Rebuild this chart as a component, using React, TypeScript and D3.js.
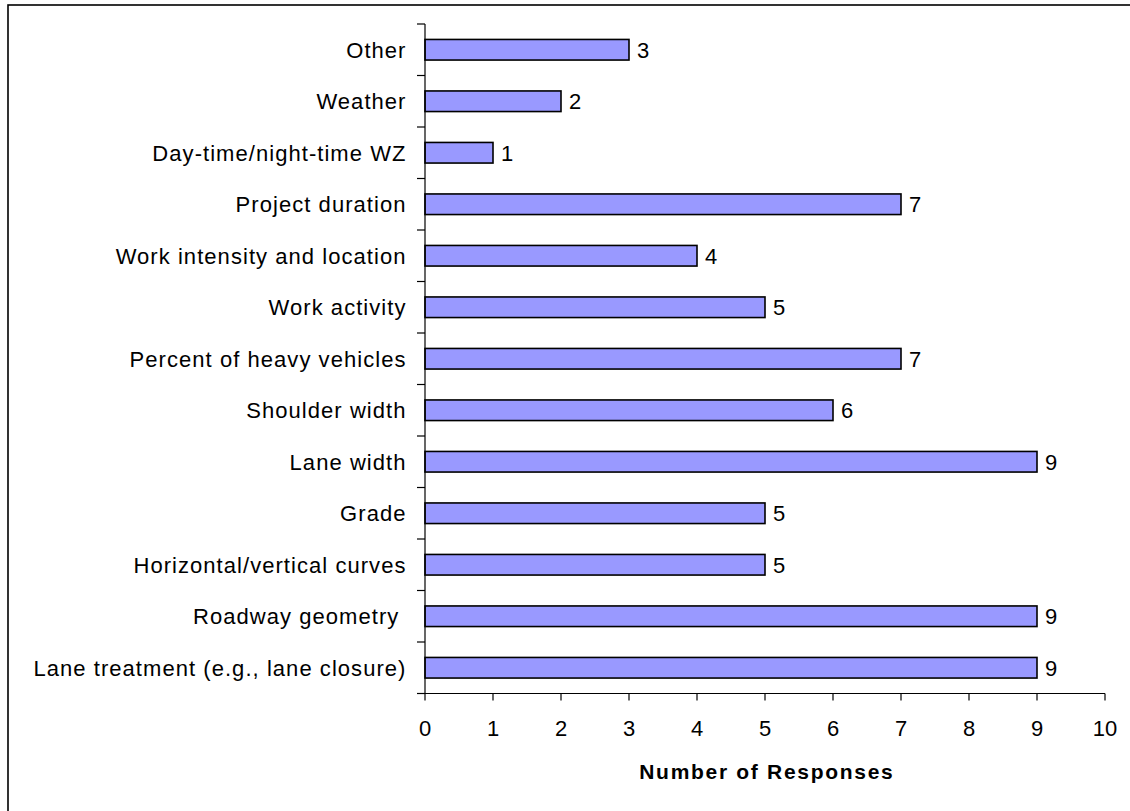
import React from "react";
import * as d3 from "d3";

const categories: string[] = [
  "Other",
  "Weather",
  "Day-time/night-time WZ",
  "Project duration",
  "Work intensity and location",
  "Work activity",
  "Percent of heavy vehicles",
  "Shoulder width",
  "Lane width",
  "Grade",
  "Horizontal/vertical curves",
  "Roadway geometry ",
  "Lane treatment (e.g., lane closure)",
];
const responses: number[] = [3, 2, 1, 7, 4, 5, 7, 6, 9, 5, 5, 9, 9];
const xTicks: number[] = [0, 1, 2, 3, 4, 5, 6, 7, 8, 9, 10];
const xTitle = "Number of Responses";

const W = 1130;
const H = 811;
const plot = { left: 425, right: 1105, top: 24, bottom: 693.5 };
const FONT = "Arial, 'Liberation Sans', Helvetica, sans-serif";

export default function App() {
  const x = d3.scaleLinear().domain([0, 10]).range([plot.left, plot.right]);
  const y = d3.scaleBand<string>().domain(categories).range([plot.top, plot.bottom]);
  const bandEdges = d3.range(categories.length + 1).map((i) => plot.top + y.step() * i);
  const center = (c: string) => (y(c) as number) + y.bandwidth() / 2;
  const barH = y.bandwidth() * 0.4;

  return (
    <svg
      width={W}
      height={H}
      style={{ position: "absolute", left: 0, top: 0, background: "#fff" }}
      fontFamily={FONT}
    >
      <rect x={8} y={5} width={W} height={H} fill="#fff" stroke="#000" strokeWidth={1.6} />

      {/* bars */}
      {categories.map((c, i) => (
        <rect
          key={c}
          x={x(0)}
          y={center(c) - barH / 2}
          width={x(responses[i]) - x(0)}
          height={barH}
          fill="#9999FF"
          stroke="#000"
          strokeWidth={1.6}
        />
      ))}

      {/* value labels */}
      {categories.map((c, i) => (
        <text
          key={"v" + c}
          x={x(responses[i]) + 8}
          y={center(c)}
          dy="0.36em"
          fontSize={22}
          fill="#000"
        >
          {responses[i]}
        </text>
      ))}

      {/* y axis */}
      <line x1={plot.left} x2={plot.left} y1={plot.top} y2={plot.bottom} stroke="#000" strokeWidth={1.2} />
      {bandEdges.map((e, i) => (
        <line key={"yt" + i} x1={plot.left - 8} x2={plot.left} y1={e} y2={e} stroke="#000" strokeWidth={1.2} />
      ))}
      {categories.map((c) => (
        <text
          key={"l" + c}
          x={406.5}
          y={center(c)}
          dy="0.36em"
          textAnchor="end"
          fontSize={22}
          letterSpacing={1.05}
          fill="#000"
          style={{ whiteSpace: "pre" }}
        >
          {c}
        </text>
      ))}

      {/* x axis */}
      <line x1={plot.left - 8} x2={plot.right} y1={plot.bottom} y2={plot.bottom} stroke="#000" strokeWidth={1.2} />
      {xTicks.map((t) => (
        <g key={"xt" + t}>
          <line x1={x(t)} x2={x(t)} y1={plot.bottom} y2={plot.bottom + 7} stroke="#000" strokeWidth={1.2} />
          <text x={x(t)} y={736} textAnchor="middle" fontSize={22} fill="#000">
            {t}
          </text>
        </g>
      ))}
      <text
        x={(636.7 + 895) / 2 + 1}
        y={779}
        textAnchor="middle"
        fontSize={21}
        fontWeight="bold"
        letterSpacing={1.7}
        fill="#000"
      >
        {xTitle}
      </text>
    </svg>
  );
}
